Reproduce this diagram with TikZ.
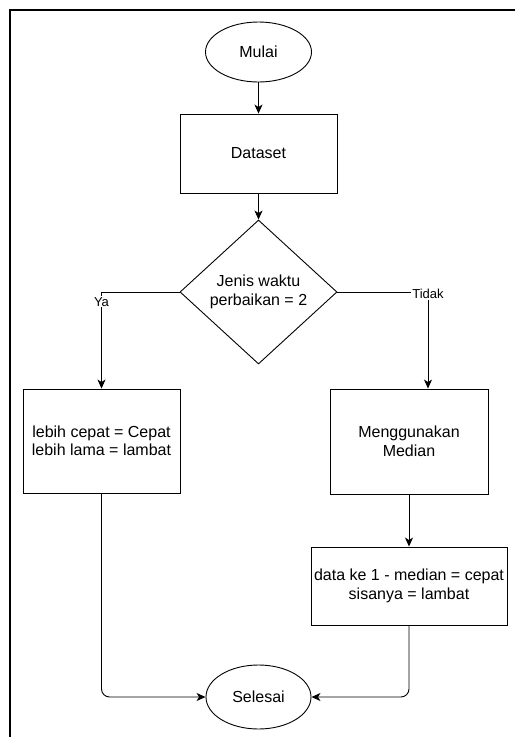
\documentclass[tikz,border=0pt]{standalone}
\usepackage{fontspec}
\setmainfont{Liberation Sans}
\usepackage{tikz}
\usetikzlibrary{shapes.geometric}
\usetikzlibrary{arrows.meta}
\usetikzlibrary{positioning}

\begin{document}
\begin{tikzpicture}[x=1pt,y=-1pt,line width=0.9pt,
    font=\fontsize{16}{18.5}\selectfont,
    term/.style={draw,ellipse,inner sep=0pt},
    proc/.style={draw,rectangle,inner sep=0pt,align=center},
    cond/.style={draw,diamond,inner sep=0pt,aspect=1.09,align=center},
    arr/.style={-{Stealth[length=9pt,width=8pt,inset=2.5pt]}},
    lbl/.style={fill=white,inner sep=1pt,font=\fontsize{13}{15}\selectfont}]
          \useasboundingbox (0,0) rectangle (515,737);
          \draw[line width=1.4pt] (515,10) -- (10,10) -- (10,737);
          \node[term,minimum width=106,minimum height=60] (mulai) at (258.5,52) {Mulai};
          \node[proc,minimum width=157,minimum height=79] (dataset) at (258.5,153.5) {Dataset};
          \node[cond,minimum width=157,minimum height=144] (jenis) at (258.5,292) {Jenis waktu\\perbaikan = 2};
          \node[proc,minimum width=157,minimum height=104] (cepat) at (101.5,441) {lebih cepat = Cepat\\lebih lama = lambat};
          \node[proc,minimum width=158,minimum height=105] (median) at (409,441.5) {Menggunakan\\Median};
          \node[proc,minimum width=196,minimum height=78] (datake) at (409,586) {data ke 1 - median = cepat\\sisanya = lambat};
          \node[term,minimum width=105,minimum height=64] (selesai) at (258.5,697) {Selesai};
          \draw[arr] (mulai) -- (dataset);
          \draw[arr] (dataset) -- (jenis);
          \draw[arr] (jenis.west) -| node[lbl,pos=0.55]{Ya} (cepat.north);
          \draw[arr] (jenis.east) -| node[lbl,pos=0.51]{Tidak} ([xshift=19pt]median.north);
          \draw[arr] (median) -- (datake);
          \draw[arr,rounded corners=8pt] (cepat.south) |- (selesai.west);
          \draw[arr,rounded corners=8pt] (datake.south) |- (selesai.east);
        \end{tikzpicture}
\end{document}
